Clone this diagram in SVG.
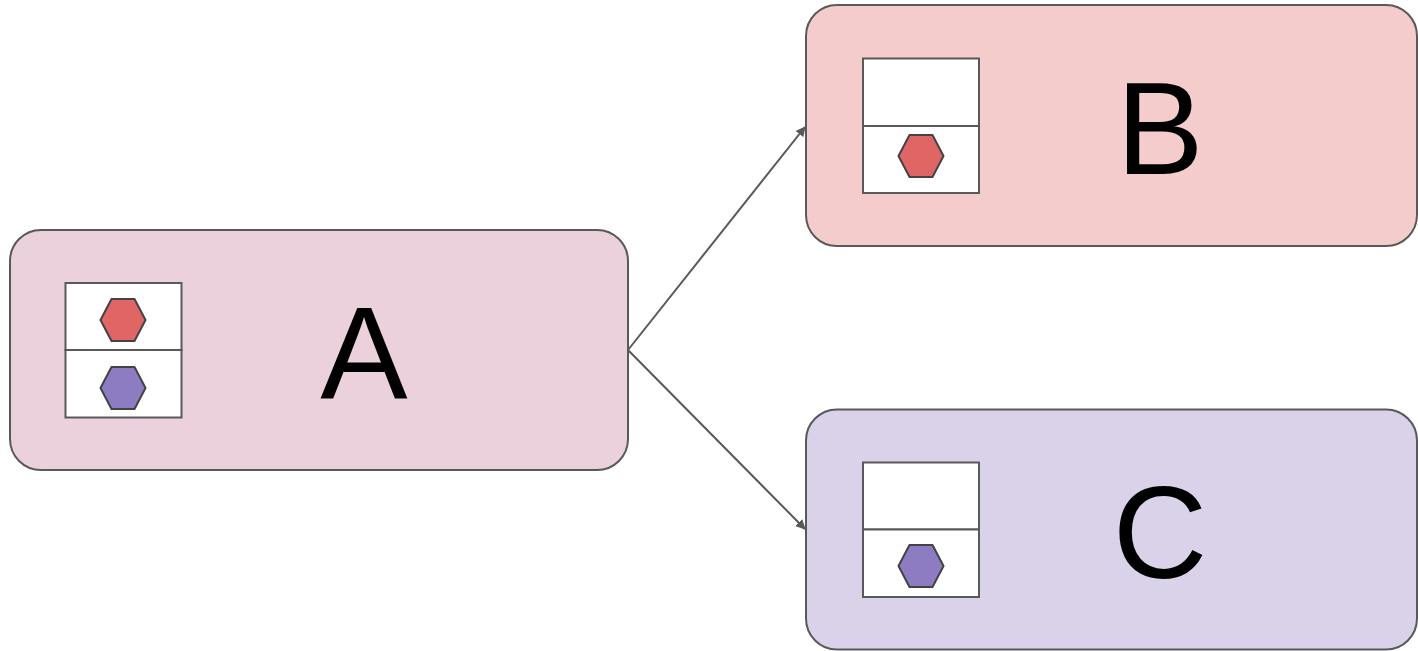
<svg xmlns="http://www.w3.org/2000/svg" width="1418" height="651" viewBox="0 0 1418 651">
  <defs>
    <style>
      .node { stroke: #595959; stroke-width: 2; }
      .slot { fill: #ffffff; stroke: #595959; stroke-width: 2; }
      .hex { stroke: #434343; stroke-width: 2; stroke-linejoin: round; }
      .red { fill: #e06666; }
      .purple { fill: #8e7cc3; }
      .label { font-family: "Liberation Sans", Arial, sans-serif; font-size: 131px; fill: #000000; text-anchor: middle; }
      .edge { stroke: #595959; stroke-width: 2; fill: none; }
    </style>
    <marker id="arrow" viewBox="0 0 10 10" refX="9" refY="5" markerWidth="5" markerHeight="5" orient="auto" markerUnits="strokeWidth">
      <path d="M0,0 L10,5 L0,10 z" fill="#595959"/>
    </marker>
    <polygon id="hexagon" points="-22.5,0 -11.5,-21 11.5,-21 22.5,0 11.5,21 -11.5,21"/>
  </defs>

  <g id="connectors">
    <line class="edge" x1="628" y1="350" x2="805" y2="127" marker-end="url(#arrow)"/>
    <line class="edge" x1="628" y1="350" x2="805" y2="529" marker-end="url(#arrow)"/>
  </g>

  <g id="node-a">
    <rect class="node" x="10" y="230" width="618" height="240" rx="31" fill="#ead1dc"/>
    <rect class="slot" x="65.5" y="283" width="116" height="67"/>
    <rect class="slot" x="65.5" y="350" width="116" height="67.5"/>
    <use href="#hexagon" class="hex red" x="123" y="320"/>
    <use href="#hexagon" class="hex purple" x="123" y="388"/>
    <text class="label" x="364" y="399">A</text>
  </g>

  <g id="node-b">
    <rect class="node" x="806" y="5" width="611" height="241" rx="31" fill="#f4cccc"/>
    <rect class="slot" x="863" y="58.5" width="116" height="67.5"/>
    <rect class="slot" x="863" y="126" width="116" height="67"/>
    <use href="#hexagon" class="hex red" x="921" y="156"/>
    <text class="label" x="1160" y="174">B</text>
  </g>

  <g id="node-c">
    <rect class="node" x="806" y="409.5" width="611" height="240" rx="31" fill="#d9d2e9"/>
    <rect class="slot" x="863" y="462.5" width="116" height="67"/>
    <rect class="slot" x="863" y="529.5" width="116" height="67.5"/>
    <use href="#hexagon" class="hex purple" x="921" y="566"/>
    <text class="label" x="1160" y="578">C</text>
  </g>
</svg>
